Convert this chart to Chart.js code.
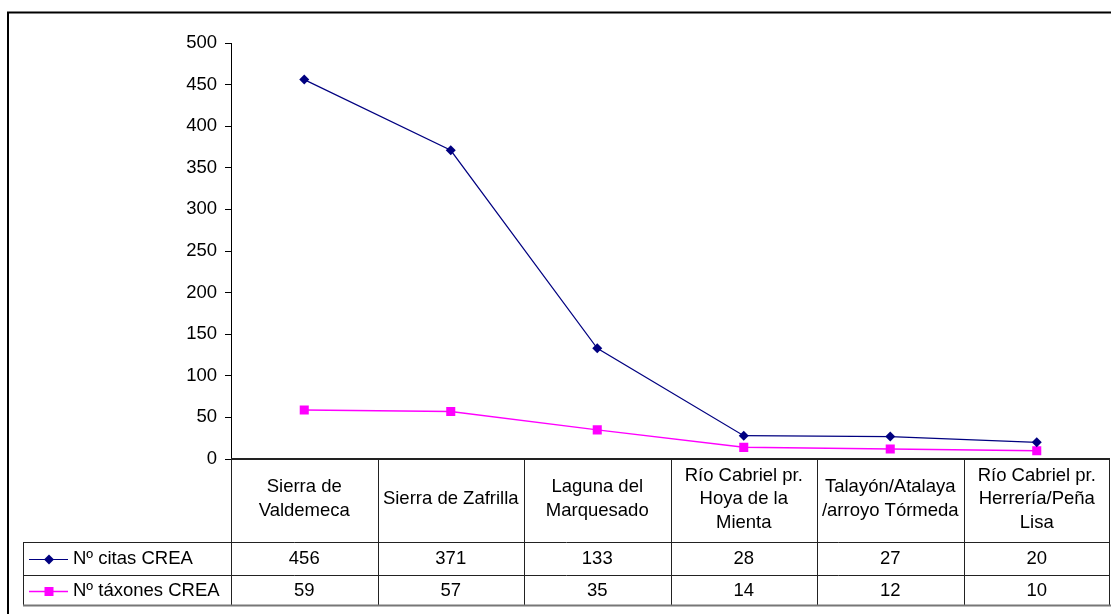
<!DOCTYPE html>
<html>
<head>
<meta charset="utf-8">
<script src="https://cdn.jsdelivr.net/npm/chart.js@4.4.0/dist/chart.umd.min.js"></script>
<style>
    html, body { margin: 0; padding: 0; background: #fff; }
    #chart { display: block; }
</style>
</head>
<body>
<canvas id="chart" width="1111" height="614"></canvas>
<script>
/* Data: citations and taxa per area (CREA) */
const categories = [
    ['Sierra de', 'Valdemeca'],
    ['Sierra de Zafrilla'],
    ['Laguna del', 'Marquesado'],
    ['Río Cabriel pr.', 'Hoya de la', 'Mienta'],
    ['Talayón/Atalaya', '/arroyo Tórmeda'],
    ['Río Cabriel pr.', 'Herrería/Peña', 'Lisa']
];
const citasData = [456, 371, 133, 28, 27, 20];
const taxonesData = [59, 57, 35, 14, 12, 10];
const seriesNames = ['Nº citas CREA', 'Nº táxones CREA'];
const yTicks = [0, 50, 100, 150, 200, 250, 300, 350, 400, 450, 500];

const FONT = "'Liberation Sans', Arial, sans-serif";
const FONT_SIZE = 18.5;
const NAVY = '#000080';
const MAGENTA = '#ff00ff';

function drawMarker(ctx, style, x, y, color) {
    ctx.save();
    ctx.fillStyle = color;
    ctx.beginPath();
    if (style === 'diamond') {
        ctx.moveTo(x - 5, y);
        ctx.lineTo(x, y - 5);
        ctx.lineTo(x + 5, y);
        ctx.lineTo(x, y + 5);
        ctx.closePath();
    } else {
        ctx.rect(x - 4.5, y - 4.5, 9, 9);
    }
    ctx.fill();
    ctx.restore();
}

// data table under the plot, with legend keys in the first column
const dataTablePlugin = {
    id: 'dataTable',
    afterDraw(chart) {
        const ctx = chart.ctx;
        const area = chart.chartArea;
        const xs = chart.scales.x;
        const step = xs.getPixelForValue(1) - xs.getPixelForValue(0);
        const bounds = [];
        for (let i = 0; i <= categories.length; i++) {
            bounds.push(xs.getPixelForValue(0) - step / 2 + i * step);
        }
        const top = area.bottom;
        const headBottom = 542;
        const rowBottom = 575;
        const tableBottom = 605;
        const legendLeft = 23;
        const right = bounds[bounds.length - 1];

        ctx.save();

        // outer frame
        ctx.strokeStyle = '#000';
        ctx.lineWidth = 2;
        ctx.beginPath();
        ctx.moveTo(8, 614);
        ctx.lineTo(8, 12.5);
        ctx.lineTo(1111, 12.5);
        ctx.stroke();

        // category axis line / table top
        ctx.strokeStyle = '#222';
        ctx.lineWidth = 2;
        ctx.beginPath();
        ctx.moveTo(area.left, top);
        ctx.lineTo(right, top);
        ctx.stroke();

        // grid
        ctx.strokeStyle = '#222';
        ctx.lineWidth = 1;
        ctx.beginPath();
        bounds.forEach(b => {
            const x = Math.min(Math.round(b), 1109) + 0.5;
            ctx.moveTo(x, top);
            ctx.lineTo(x, tableBottom);
        });
        ctx.moveTo(legendLeft + 0.5, headBottom);
        ctx.lineTo(legendLeft + 0.5, tableBottom);
        [headBottom, rowBottom].forEach(y => {
            ctx.moveTo(legendLeft, y + 0.5);
            ctx.lineTo(right, y + 0.5);
        });
        ctx.stroke();
        ctx.strokeStyle = '#777';
        ctx.lineWidth = 2;
        ctx.beginPath();
        ctx.moveTo(legendLeft, tableBottom + 0.5);
        ctx.lineTo(right + 1, tableBottom + 0.5);
        ctx.stroke();

        // header labels
        ctx.fillStyle = '#000';
        ctx.font = FONT_SIZE + 'px ' + FONT;
        ctx.textAlign = 'center';
        ctx.textBaseline = 'middle';
        const lineH = 23.5;
        const headMid = 499;
        categories.forEach((lines, i) => {
            const cx = xs.getPixelForValue(i);
            const y0 = headMid - (lines.length - 1) * lineH / 2;
            lines.forEach((t, j) => ctx.fillText(t, cx, y0 + j * lineH));
        });

        // value rows
        const rows = [
            { values: citasData, color: NAVY, marker: 'diamond', y: 559 },
            { values: taxonesData, color: MAGENTA, marker: 'square', y: 591 }
        ];
        rows.forEach((row, r) => {
            row.values.forEach((v, i) => {
                ctx.fillText(String(v), xs.getPixelForValue(i), row.y);
            });
            ctx.strokeStyle = row.color;
            ctx.lineWidth = r === 0 ? 1.2 : 1.5;
            ctx.beginPath();
            ctx.moveTo(29, row.y + 0.5);
            ctx.lineTo(68, row.y + 0.5);
            ctx.stroke();
            drawMarker(ctx, row.marker, 49, row.y + 0.5, row.color);
            ctx.textAlign = 'left';
            ctx.fillText(seriesNames[r], 73, row.y);
            ctx.textAlign = 'center';
        });

        ctx.restore();
    }
};

new Chart(document.getElementById('chart'), {
    type: 'line',
    data: {
        labels: categories,
        datasets: [{
            label: seriesNames[0],
            data: citasData,
            borderColor: NAVY,
            backgroundColor: NAVY,
            borderWidth: 1.2,
            pointStyle: 'rectRot',
            pointRadius: 5,
            pointBorderWidth: 0,
            tension: 0
        }, {
            label: seriesNames[1],
            data: taxonesData,
            borderColor: MAGENTA,
            backgroundColor: MAGENTA,
            borderWidth: 1.5,
            pointStyle: 'rect',
            pointRadius: 6.4,
            pointBorderWidth: 0,
            tension: 0
        }]
    },
    options: {
        responsive: false,
        animation: false,
        layout: {
            autoPadding: false,
            padding: { top: 43, right: 1, bottom: 155, left: 0 }
        },
        plugins: {
            legend: { display: false },
            tooltip: { enabled: false }
        },
        scales: {
            x: {
                display: false,
                offset: true
            },
            y: {
                min: 0,
                max: 500,
                afterBuildTicks: scale => {
                    scale.ticks = yTicks.map(v => ({ value: v }));
                },
                afterFit: scale => {
                    scale.width = 231;
                },
                grid: {
                    drawOnChartArea: false,
                    drawTicks: true,
                    tickLength: 6,
                    color: '#000'
                },
                border: { display: true, color: '#000', width: 1 },
                ticks: {
                    color: '#000',
                    padding: 8,
                    font: { family: FONT, size: FONT_SIZE }
                }
            }
        }
    },
    plugins: [dataTablePlugin]
});
</script>
</body>
</html>
